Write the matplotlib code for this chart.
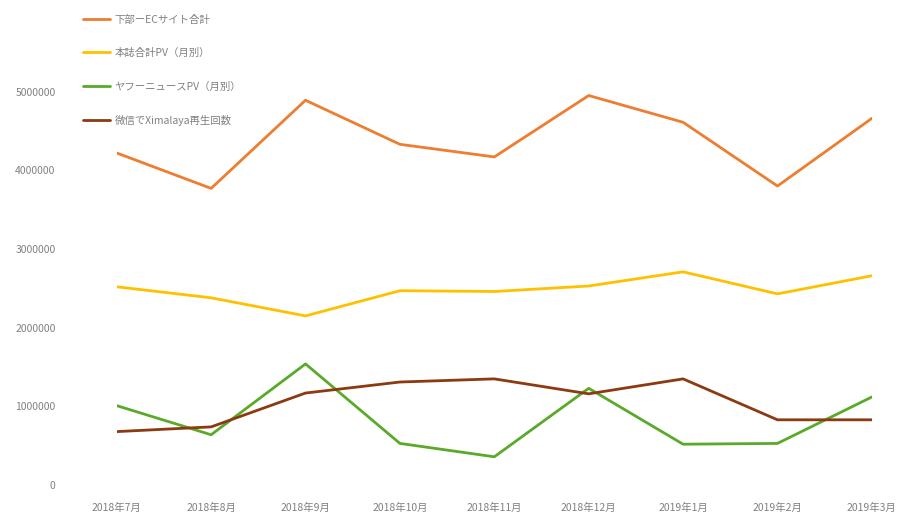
import matplotlib
matplotlib.use("Agg")
import matplotlib.pyplot as plt

plt.rcParams['font.family'] = ['Noto Sans CJK JP', 'DejaVu Sans']

# months on the x axis
months = ["2018年7月", "2018年8月", "2018年9月", "2018年10月", "2018年11月",
          "2018年12月", "2019年1月", "2019年2月", "2019年3月"]

# series
site_total = [4220000, 3770000, 4890000, 4330000, 4170000, 4950000, 4610000, 3800000, 4660000]
magazine_pv = [2520000, 2380000, 2150000, 2470000, 2460000, 2530000, 2710000, 2430000, 2660000]
yahoo_pv = [1010000, 640000, 1540000, 530000, 360000, 1230000, 520000, 530000, 1120000]
ximalaya = [680000, 740000, 1170000, 1310000, 1350000, 1160000, 1350000, 830000, 830000]

labels = ["下部ーECサイト合計", "本誌合計PV（月別）", "ヤフーニュースPV（月別）", "微信でXimalaya再生回数"]
colors = ["#ED7D31", "#FFC000", "#5AAA2A", "#8B3A12"]

fig = plt.figure(figsize=(9.12, 5.15), dpi=100)
ax = fig.add_axes([0.128, 0.058, 0.828, 0.917])

x = list(range(len(months)))
for vals, lab, col in zip([site_total, magazine_pv, yahoo_pv, ximalaya], labels, colors):
    ax.plot(x, vals, color=col, lw=2.0, label=lab, solid_capstyle='round')

ax.set_xlim(0, len(months) - 1)
ax.set_ylim(0, 6000000)
ax.set_yticks([0, 1000000, 2000000, 3000000, 4000000, 5000000])
ax.set_yticklabels(["0", "1000000", "2000000", "3000000", "4000000", "5000000"])
ax.set_xticks(x)
ax.set_xticklabels(months)
ax.tick_params(axis='y', length=0, pad=44, labelsize=7.5, labelcolor="#808080")
ax.tick_params(axis='x', length=0, pad=13, labelsize=7.5, labelcolor="#808080")
for s in ax.spines.values():
    s.set_visible(False)

fig.legend(loc="upper left", bbox_to_anchor=(0.083, 0.986), frameon=False,
           fontsize=7.5, labelcolor="#808080", handlelength=2.6,
           handletextpad=0.45, labelspacing=2.25, borderaxespad=0.3)

fig.savefig("out.png", dpi=100)
